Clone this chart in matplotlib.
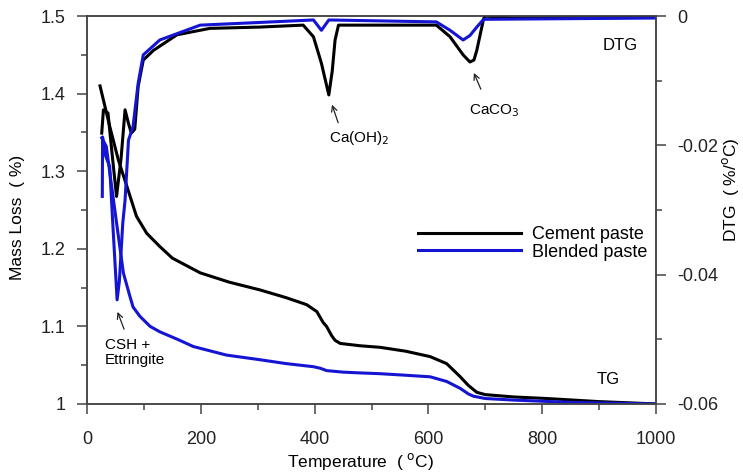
import numpy as np
import matplotlib.pyplot as plt
from matplotlib.ticker import MultipleLocator

plt.rcParams['font.family'] = ['Liberation Sans', 'DejaVu Sans']
plt.rcParams['axes.unicode_minus'] = False

# TG, cimento (T em °C, perda de massa em %)
tg_cem_T = [23, 40, 55, 70, 87, 105, 128, 150, 199, 250, 304, 350, 386, 404, 415, 421,
            430, 436, 445, 480, 515, 560, 603, 632, 656, 670, 685, 700, 750, 808, 900, 1000]
tg_cem_m = [1.41, 1.358, 1.315, 1.281, 1.242, 1.22, 1.203, 1.188, 1.169, 1.157, 1.147, 1.137,
            1.128, 1.119, 1.105, 1.100, 1.088, 1.082, 1.078, 1.075, 1.073, 1.068, 1.061, 1.052,
            1.035, 1.024, 1.015, 1.012, 1.009, 1.007, 1.003, 1.0]

# TG, pasta com adição
tg_bl_T = [26, 34, 49, 64, 75, 81, 93, 111, 128, 160, 187, 245, 304, 350, 398, 410, 421, 450,
           480, 515, 560, 603, 632, 656, 670, 679, 700, 749, 850, 1000]
tg_bl_m = [1.343, 1.332, 1.25, 1.169, 1.14, 1.125, 1.113, 1.100, 1.093, 1.083, 1.074, 1.063,
           1.057, 1.052, 1.048, 1.046, 1.043, 1.041, 1.040, 1.039, 1.037, 1.035, 1.029, 1.020,
           1.013, 1.010, 1.007, 1.005, 1.002, 1.0]

# DTG, cimento (%/°C)
dtg_cem_T = [26, 29, 37, 45, 52, 60, 67, 73, 78, 84, 90, 99, 117, 158, 216, 304, 380, 398,
             412, 425, 431, 436, 442, 614, 638, 661, 673, 680, 685, 697, 700, 750, 1000]
dtg_cem_d = [-0.0181, -0.0145, -0.0150, -0.0220, -0.0279, -0.0220, -0.0145, -0.0166, -0.0181,
             -0.0175, -0.0109, -0.0068, -0.0053, -0.0029, -0.0019, -0.0017, -0.0014, -0.0032,
             -0.0073, -0.0122, -0.0085, -0.0037, -0.0014, -0.0014, -0.0032, -0.0060, -0.0071,
             -0.0068, -0.0053, -0.0004, 0.0, -0.0003, -0.0002]

# DTG, pasta com adição
dtg_bl_T = [27, 27.5, 31, 40, 46, 53, 57, 63, 67, 73, 81, 90, 99, 128, 199, 300, 398, 412,
            425, 614, 638, 661, 673, 685, 697, 1000]
dtg_bl_d = [-0.0279, -0.0187, -0.0212, -0.0233, -0.0330, -0.0439, -0.0410, -0.0320, -0.0285,
            -0.0192, -0.0171, -0.0104, -0.0060, -0.0037, -0.0014, -0.0010, -0.0006, -0.0022,
            -0.0006, -0.0009, -0.0022, -0.0037, -0.0030, -0.0017, -0.0005, -0.0003]

left_ticks = [1.0, 1.1, 1.2, 1.3, 1.4, 1.5]
left_labels = ['1', '1.1', '1.2', '1.3', '1.4', '1.5']
right_ticks = [-0.06, -0.04, -0.02, 0.0]
right_labels = ['-0.06', '-0.04', '-0.02', '0']
x_ticks = [0, 200, 400, 600, 800, 1000]

preto = '#000000'
azul = '#1414d2'
cinza = '#444444'

fig = plt.figure(figsize=(7.43, 4.73), dpi=100)
ax = fig.add_axes([0.117, 0.146, 0.766, 0.820])
ax2 = ax.twinx()

ax.plot(tg_cem_T, tg_cem_m, color=preto, lw=2.2, label='Cement paste')
ax.plot(tg_bl_T, tg_bl_m, color=azul, lw=2.2, label='Blended paste')
ax2.plot(dtg_cem_T, dtg_cem_d, color=preto, lw=2.2)
ax2.plot(dtg_bl_T, dtg_bl_d, color=azul, lw=2.2)

ax.set_xlim(0, 1000)
ax.set_ylim(1.0, 1.5)
ax2.set_ylim(-0.06, 0.0)

ax.set_xticks(x_ticks)
ax.xaxis.set_minor_locator(MultipleLocator(100))
ax.set_yticks(left_ticks)
ax.set_yticklabels(left_labels)
ax.yaxis.set_minor_locator(MultipleLocator(0.05))
ax2.set_yticks(right_ticks)
ax2.set_yticklabels(right_labels)
ax2.yaxis.set_minor_locator(MultipleLocator(0.01))

for a in (ax, ax2):
    for s in a.spines.values():
        s.set_color(cinza)
        s.set_linewidth(1.1)
    a.tick_params(which='major', direction='out', length=7.5, width=1.1, color=cinza,
                  labelsize=13, labelcolor='#222222')
    a.tick_params(which='minor', direction='out', length=4.3, width=1.1, color=cinza)
ax.tick_params(axis='x', which='major', pad=12)
ax.tick_params(axis='y', which='major', pad=8)
ax2.tick_params(axis='y', which='major', pad=8)

ax.set_xlabel('Temperature  ( $^{\\mathrm{o}}$C)', fontsize=12.5)
ax.xaxis.set_label_coords(0.48, -0.122)
ax.set_ylabel('Mass Loss  ( %)', fontsize=12.5)
ax.yaxis.set_label_coords(-0.109, 0.482)
ax2.set_ylabel('DTG  ( %/$^{\\mathrm{o}}$C)', fontsize=12.5)
ax2.yaxis.set_label_coords(1.112, 0.552)

# anotações dos picos
ax.text(32, 1.085, 'CSH +\nEttringite', fontsize=11, ha='left', va='top', linespacing=1.1)
ax.annotate('', xy=(52, 1.122), xytext=(67, 1.093),
            arrowprops=dict(arrowstyle='->', color='#222222', lw=0.9))
ax2.text(425, -0.0188, 'Ca(OH)$_2$', fontsize=11, ha='left', va='center')
ax2.annotate('', xy=(429, -0.0133), xytext=(443, -0.0169),
             arrowprops=dict(arrowstyle='->', color='#222222', lw=0.9))
ax2.text(671, -0.0147, 'CaCO$_3$', fontsize=11, ha='left', va='center')
ax2.annotate('', xy=(678, -0.0084), xytext=(694, -0.0117),
             arrowprops=dict(arrowstyle='->', color='#222222', lw=0.9))
ax2.text(937, -0.0045, 'DTG', fontsize=12, ha='center', va='center')
ax.text(916, 1.031, 'TG', fontsize=12, ha='center', va='center')

ax.legend(loc='upper left', bbox_to_anchor=(0.581, 0.459), frameon=False, fontsize=13,
          handlelength=5.7, handletextpad=0.62, labelspacing=0.05, borderpad=0,
          borderaxespad=0)

fig.savefig('out.png', dpi=100)
